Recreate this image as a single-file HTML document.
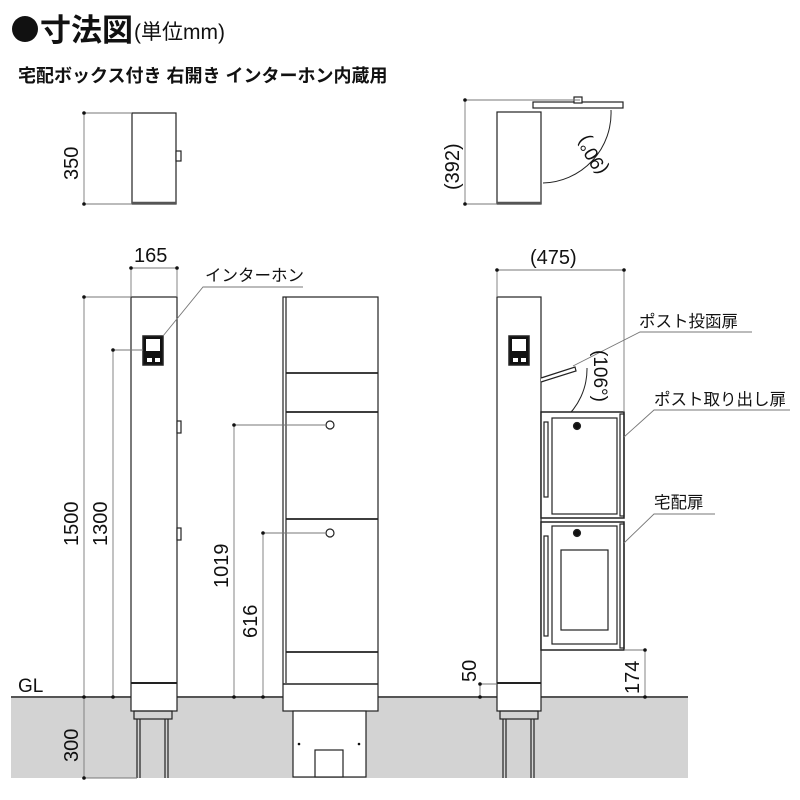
<!DOCTYPE html>
<html><head><meta charset="utf-8"><style>
html,body{margin:0;padding:0;background:#fff;width:800px;height:800px;overflow:hidden}
svg{display:block}
text{font-family:"Liberation Sans","Noto Sans CJK JP",sans-serif;fill:#111}
</style></head><body>
<svg width="800" height="800" viewBox="0 0 800 800" xmlns="http://www.w3.org/2000/svg">
<!-- title -->
<circle cx="25" cy="29" r="13" fill="#111"/>
<text x="40" y="41" font-size="31" font-weight="bold">寸法図</text>
<text x="134" y="39" font-size="21">(単位mm)</text>
<text x="18" y="82" font-size="18" font-weight="bold">宅配ボックス付き 右開き インターホン内蔵用</text>

<!-- ground -->
<rect x="11" y="697" width="435" height="81" fill="#d3d3d3"/>
<rect x="446" y="697" width="242" height="81" fill="#d3d3d3"/>
<line x1="11" y1="697" x2="688" y2="697" stroke="#555" stroke-width="2"/>
<text x="18" y="692" font-size="19">GL</text>

<g fill="none" stroke="#222" stroke-width="1.2">
<rect x="132" y="113" width="44" height="91" fill="#fff"/>
<line x1="132" y1="203" x2="176" y2="203" stroke-width="2.5" stroke="#555"/>
<rect x="176" y="151" width="5" height="10" fill="#fff"/>
<rect x="497" y="112" width="44" height="92" fill="#fff"/>
<line x1="497" y1="203" x2="541" y2="203" stroke-width="2.5" stroke="#555"/>
<rect x="533" y="102" width="90" height="6" fill="#fff"/>
<rect x="574" y="97" width="8" height="6" fill="#fff"/>
<path d="M611 110 A70 70 0 0 1 543 183" stroke-width="1"/>

<rect x="131" y="297" width="46" height="414" fill="#fff"/>
<line x1="131" y1="683" x2="177" y2="683" stroke-width="2"/>
<rect x="143" y="336" width="20" height="29" fill="#111" stroke-width="1.5"/>
<rect x="146" y="339" width="14" height="12" fill="#fff" stroke="none"/>
<rect x="147" y="358" width="5" height="4" fill="#fff" stroke="none"/>
<rect x="155" y="358" width="5" height="4" fill="#fff" stroke="none"/>
<rect x="177" y="421" width="4" height="12" fill="#fff"/>
<rect x="177" y="528" width="4" height="12" fill="#fff"/>
<rect x="134" y="711" width="38" height="8"/>
<line x1="137" y1="719" x2="137" y2="778"/><line x1="140" y1="719" x2="140" y2="778"/>
<line x1="165" y1="719" x2="165" y2="778"/><line x1="168" y1="719" x2="168" y2="778"/>

<rect x="283" y="297" width="95" height="414" fill="#fff"/>
<line x1="286" y1="297" x2="286" y2="683"/>
<line x1="286" y1="373" x2="378" y2="373" stroke-width="1.8"/>
<line x1="286" y1="412" x2="378" y2="412" stroke-width="1.8"/>
<line x1="286" y1="519" x2="378" y2="519" stroke-width="1.8"/>
<line x1="286" y1="652" x2="378" y2="652" stroke-width="1.8"/>
<line x1="283" y1="684" x2="378" y2="684" stroke-width="1.5"/>
<circle cx="330" cy="425" r="4"/>
<circle cx="330" cy="533" r="4"/>
<rect x="293" y="711" width="73" height="66" fill="#fff"/>
<rect x="315" y="750" width="28" height="27" fill="#fff"/>

<rect x="497" y="297" width="44" height="414" fill="#fff"/>
<line x1="497" y1="683" x2="541" y2="683" stroke-width="2"/>
<rect x="509" y="336" width="20" height="29" fill="#111" stroke-width="1.5"/>
<rect x="512" y="339" width="14" height="12" fill="#fff" stroke="none"/>
<rect x="513" y="358" width="5" height="4" fill="#fff" stroke="none"/>
<rect x="521" y="358" width="5" height="4" fill="#fff" stroke="none"/>
<rect x="500" y="711" width="38" height="8"/>
<line x1="503" y1="719" x2="503" y2="778"/><line x1="506" y1="719" x2="506" y2="778"/>
<line x1="531" y1="719" x2="531" y2="778"/><line x1="534" y1="719" x2="534" y2="778"/>
<path d="M541 378 L575 367 L576 371 L541 382" fill="#fff"/>
<path d="M587 368 A66 66 0 0 1 563 420" stroke-width="1"/>
<rect x="541" y="412" width="83" height="106" fill="#fff" stroke-width="1.5"/>
<rect x="552" y="418" width="65" height="96"/>
<rect x="544" y="422" width="4" height="75"/>
<rect x="620" y="414" width="4" height="102"/>
<rect x="541" y="522" width="83" height="128" fill="#fff" stroke-width="1.5"/>
<rect x="552" y="526" width="65" height="118"/>
<rect x="544" y="536" width="4" height="100"/>
<rect x="620" y="524" width="4" height="124"/>
<rect x="561" y="550" width="47" height="80"/>
<circle cx="577" cy="426" r="3.5" fill="#111"/>
<circle cx="577" cy="533" r="3.5" fill="#111"/>
</g>

<g stroke="#777" stroke-width="0.9" fill="none">
<line x1="84" y1="113" x2="84" y2="204"/><line x1="84" y1="113" x2="132" y2="113"/><line x1="84" y1="204" x2="132" y2="204"/>
<line x1="465" y1="100" x2="465" y2="204"/><line x1="465" y1="100" x2="580" y2="100"/><line x1="465" y1="204" x2="497" y2="204"/>
<line x1="131" y1="268" x2="177" y2="268"/><line x1="131" y1="268" x2="131" y2="297"/><line x1="177" y1="268" x2="177" y2="297"/>
<line x1="84" y1="297" x2="84" y2="778"/><line x1="84" y1="297" x2="131" y2="297"/><line x1="84" y1="778" x2="137" y2="778"/>
<line x1="113" y1="350" x2="113" y2="697"/><line x1="113" y1="350" x2="143" y2="350"/>
<line x1="234" y1="425" x2="234" y2="697"/><line x1="234" y1="425" x2="326" y2="425"/>
<line x1="263" y1="533" x2="263" y2="697"/><line x1="263" y1="533" x2="326" y2="533"/>
<line x1="497" y1="270" x2="624" y2="270"/><line x1="497" y1="270" x2="497" y2="297"/><line x1="624" y1="270" x2="624" y2="412"/>
<line x1="480" y1="684" x2="480" y2="697"/><line x1="480" y1="684" x2="497" y2="684"/>
<line x1="645" y1="650" x2="645" y2="697"/><line x1="624" y1="650" x2="645" y2="650"/>
<polyline points="163,336 203,287 303,287"/>
<polyline points="573,366 640,332 752,332"/>
<polyline points="624,437 654,410 790,410"/>
<polyline points="624,543 654,514 715,514"/>
</g>
<g fill="#111">
<circle cx="84" cy="113" r="1.8"/><circle cx="84" cy="204" r="1.8"/>
<circle cx="465" cy="100" r="1.8"/><circle cx="465" cy="204" r="1.8"/>
<circle cx="131" cy="268" r="1.8"/><circle cx="177" cy="268" r="1.8"/>
<circle cx="84" cy="297" r="1.8"/><circle cx="84" cy="697" r="1.8"/><circle cx="84" cy="778" r="1.8"/>
<circle cx="113" cy="350" r="1.8"/><circle cx="113" cy="697" r="1.8"/>
<circle cx="234" cy="425" r="1.8"/><circle cx="234" cy="697" r="1.8"/>
<circle cx="263" cy="533" r="1.8"/><circle cx="263" cy="697" r="1.8"/>
<circle cx="497" cy="270" r="1.8"/><circle cx="624" cy="270" r="1.8"/>
<circle cx="480" cy="684" r="1.8"/><circle cx="480" cy="697" r="1.8"/>
<circle cx="645" cy="650" r="1.8"/><circle cx="645" cy="697" r="1.8"/>
<circle cx="299" cy="744" r="1.3"/><circle cx="359" cy="744" r="1.3"/>
</g>

<g font-size="20">
<text transform="translate(78,180) rotate(-90)">350</text>
<text transform="translate(459,190) rotate(-90)">(392)</text>
<text transform="translate(608,170) rotate(-120)" font-size="19">(90°)</text>
<text x="134" y="262">165</text>
<text x="530" y="264">(475)</text>
<text x="205" y="281" font-size="16.5">インターホン</text>
<text x="639" y="327" font-size="16.5">ポスト投函扉</text>
<text x="654" y="405" font-size="16.5">ポスト取り出し扉</text>
<text x="654" y="508" font-size="16.5">宅配扉</text>
<text transform="translate(594,350) rotate(90)" font-size="19">(106°)</text>
<text transform="translate(78,546) rotate(-90)">1500</text>
<text transform="translate(107,546) rotate(-90)">1300</text>
<text transform="translate(228,588) rotate(-90)">1019</text>
<text transform="translate(257,638) rotate(-90)">616</text>
<text transform="translate(476,682) rotate(-90)">50</text>
<text transform="translate(639,694) rotate(-90)">174</text>
<text transform="translate(78,762) rotate(-90)">300</text>
</g>
</svg>
</body></html>
